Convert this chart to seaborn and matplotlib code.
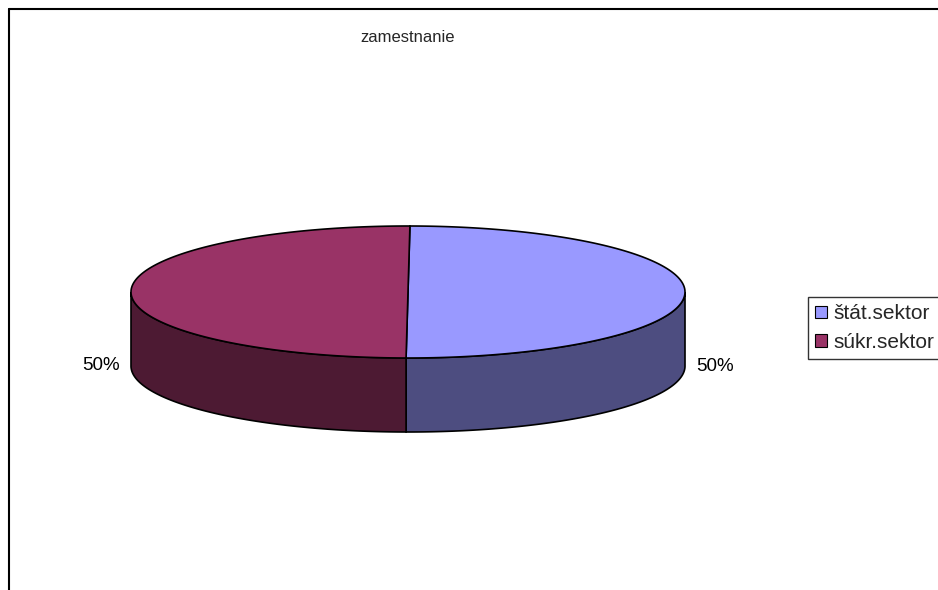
import matplotlib
matplotlib.use("Agg")
import matplotlib.pyplot as plt
import numpy as np
import seaborn as sns
from matplotlib.lines import Line2D
from matplotlib.patches import Patch

title = "zamestnanie"
categories = ["štát.sektor", "súkr.sektor"]
values = [50, 50]
colors = ["#9999FF", "#993366"]


def main():
    sns.set_theme(style="white")
    plt.rcParams['font.family'] = ['Liberation Sans', 'DejaVu Sans']

    fig = plt.figure(figsize=(9.38, 5.90), dpi=100)
    ax = fig.add_axes([0, 0, 1, 1])
    ax.set_axis_off()

    # pie geometry in "radius" units (1 unit = 277 px)
    px = 277.0
    cx, cy = 408.0, 292.0
    b = 66.0 / px      # vertical semi-axis of top ellipse
    depth = 74.0 / px  # side wall height
    ax.set_xlim(-cx / px, (938 - cx) / px)
    ax.set_ylim(-(590 - cy) / px, cy / px)

    palette = sns.color_palette(colors)
    shares = np.array(values, dtype=float) / np.sum(values)
    # excel style: start at top and go clockwise
    start_angle = 89.6
    ends = start_angle - 360 * np.cumsum(shares)
    starts = np.concatenate([[start_angle], ends[:-1]])

    def arc(t1, t2, n=200):
        t = np.radians(np.linspace(t1, t2, n))
        return np.cos(t), b * np.sin(t)

    # side walls (only the front half, angles 180..360)
    for s, e, col in zip(starts, ends, palette):
        lo, hi = min(s, e), max(s, e)
        for shift in (-360, 0, 360):
            a1 = max(lo + shift, 180)
            a2 = min(hi + shift, 360)
            if a2 > a1:
                x, y = arc(a1, a2)
                xs = np.concatenate([x, x[::-1]])
                ys = np.concatenate([y, y[::-1] - depth])
                side = tuple(np.array(col) * 0.5)
                ax.fill(xs, ys, facecolor=side, edgecolor="black", lw=1.2, zorder=2)

    # top faces
    for s, e, col in zip(starts, ends, palette):
        x, y = arc(s, e)
        xs = np.concatenate([[0], x, [0]])
        ys = np.concatenate([[0], y, [0]])
        ax.fill(xs, ys, facecolor=col, edgecolor="black", lw=1.2, zorder=3)

    # percentage labels
    for s, e, v in zip(starts, ends, shares):
        mid = np.radians((s + e) / 2)
        ax.text(1.11 * np.cos(mid), b * np.sin(mid) - depth, f"{v * 100:.0f}%",
                ha="center", va="center", fontsize=13.5, color="black")

    fig.text(408 / 938, 1 - 38 / 590, title, ha="center", va="center", fontsize=12)

    handles = [Patch(facecolor=c, edgecolor="black", lw=0.8) for c in palette]
    leg = fig.legend(handles, categories, loc="upper left",
                     bbox_to_anchor=(808 / 938, 1 - 297 / 590),
                     frameon=True, fancybox=False, fontsize=15,
                     handlelength=0.55, handleheight=0.55, handletextpad=0.3,
                     borderpad=0.35, labelspacing=0.45, borderaxespad=0)
    leg.get_frame().set_edgecolor("black")
    leg.get_frame().set_linewidth(1.0)

    # chart area border (right/bottom cut off)
    fig.add_artist(Line2D([8.5 / 938, 8.5 / 938], [0, 1 - 8.5 / 590],
                          transform=fig.transFigure, color="black", lw=1.5))
    fig.add_artist(Line2D([8.5 / 938, 1], [1 - 8.5 / 590, 1 - 8.5 / 590],
                          transform=fig.transFigure, color="black", lw=1.5))

    fig.savefig("out.png", dpi=100)


if __name__ == "__main__":
    main()
